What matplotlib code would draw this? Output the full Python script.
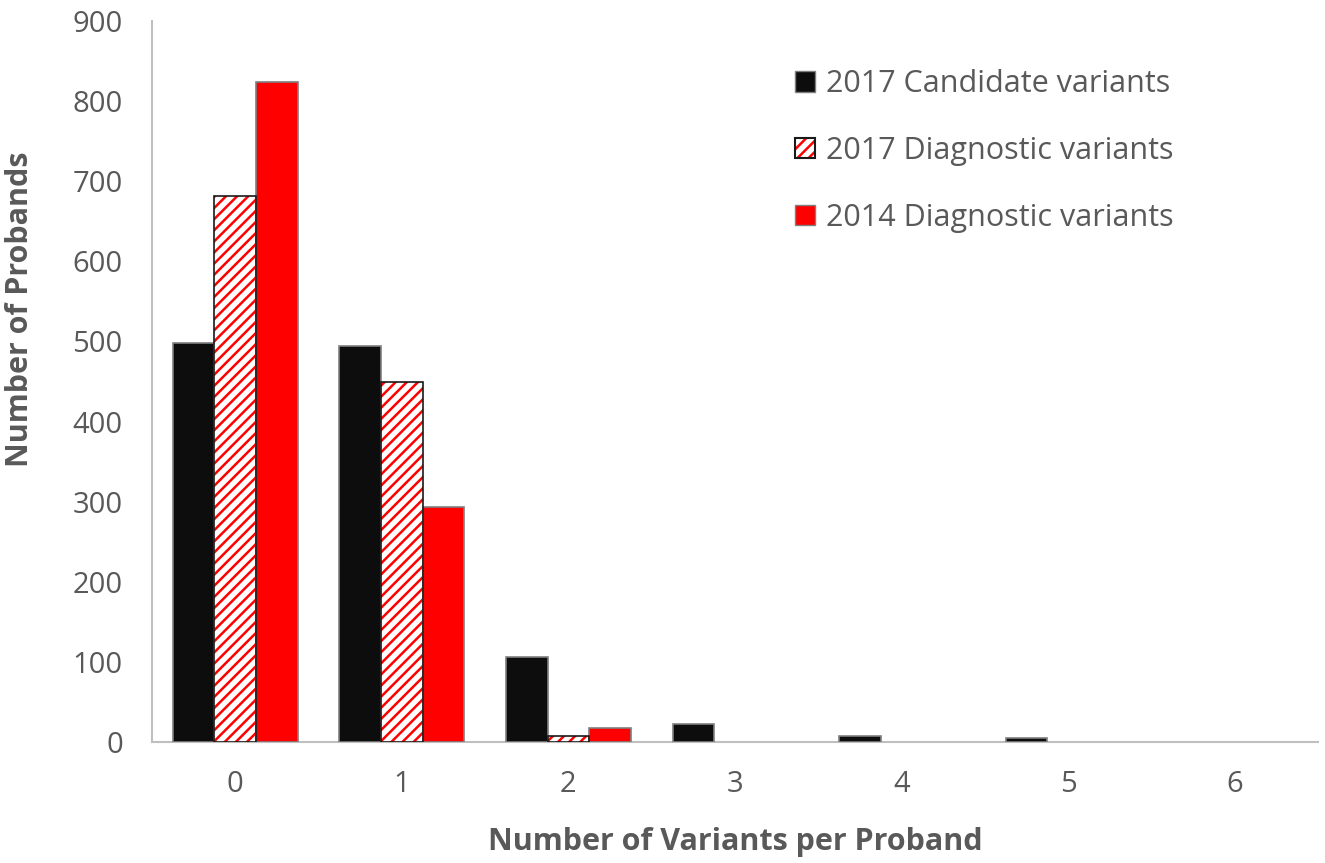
import numpy as np
import matplotlib.pyplot as plt
from matplotlib.patches import Patch
from matplotlib.legend_handler import HandlerTuple

plt.rcParams['font.family'] = ['Open Sans', 'DejaVu Sans']
plt.rcParams['hatch.linewidth'] = 1.8

# dados
categorias = ['0', '1', '2', '3', '4', '5', '6']
candidatos_2017 = [498, 494, 106, 23, 8, 5, 0]
diagnostico_2017 = [681, 449, 7, 0, 0, 0, 0]
diagnostico_2014 = [824, 293, 18, 0, 0, 0, 0]

cinza_texto = '#595959'
cinza_eixo = '#BFBFBF'


def espessuras(valores, lw):
    # sem contorno nas barras de altura zero
    return [lw if v > 0 else 0 for v in valores]


fig = plt.figure(figsize=(13.25, 8.63), dpi=100)
ax = fig.add_axes([0.1147, 0.1402, 0.88, 0.8355])

x = np.arange(len(categorias))
w = 0.25

ax.bar(x - w, candidatos_2017, w, color='#0D0D0D', edgecolor='#7F7F7F',
       linewidth=espessuras(candidatos_2017, 1.2), zorder=3)

# barras hachuradas: hachura vermelha + contorno preto
ax.bar(x, diagnostico_2017, w, color='white', edgecolor='red', hatch='///', linewidth=0, zorder=3)
ax.bar(x, diagnostico_2017, w, fill=False, edgecolor='#1A1A1A',
       linewidth=espessuras(diagnostico_2017, 1.2), zorder=4)

ax.bar(x + w, diagnostico_2014, w, color='red', edgecolor='#7F7F7F',
       linewidth=espessuras(diagnostico_2014, 1.2), zorder=3)

ax.set_xlim(-0.5, 6.5)
ax.set_ylim(0, 900)
ax.set_yticks(np.arange(0, 901, 100))
ax.set_xticks(x)
ax.set_xticklabels(categorias)

for s in ['top', 'right']:
    ax.spines[s].set_visible(False)
for s in ['left', 'bottom']:
    ax.spines[s].set_color(cinza_eixo)
    ax.spines[s].set_linewidth(1.5)

ax.tick_params(axis='both', length=0, labelsize=21, labelcolor=cinza_texto)
ax.tick_params(axis='x', pad=20)
ax.tick_params(axis='y', pad=21)

ax.set_xlabel('Number of Variants per Proband', fontsize=22, fontweight='bold', color=cinza_texto, labelpad=20)
ax.set_ylabel('Number of Probands', fontsize=22, fontweight='bold', color=cinza_texto)
ax.yaxis.set_label_coords(-0.1, 0.6)

# legenda
h1 = Patch(facecolor='#0D0D0D', edgecolor='#7F7F7F')
h2a = Patch(facecolor='white', edgecolor='red', hatch='///', linewidth=0)
h2b = Patch(fill=False, edgecolor='#1A1A1A', linewidth=1.5)
h3 = Patch(facecolor='red', edgecolor='#7F7F7F')
leg = ax.legend([h1, (h2a, h2b), h3],
                ['2017 Candidate variants', '2017 Diagnostic variants', '2014 Diagnostic variants'],
                handler_map={tuple: HandlerTuple(ndivide=1, pad=0)},
                loc='upper left', bbox_to_anchor=(0.541, 0.95), borderaxespad=0, frameon=False,
                fontsize=22, labelcolor=cinza_texto, handlelength=0.65, handleheight=0.65,
                handletextpad=0.35, labelspacing=1.2)

fig.savefig('out.png', dpi=100)
